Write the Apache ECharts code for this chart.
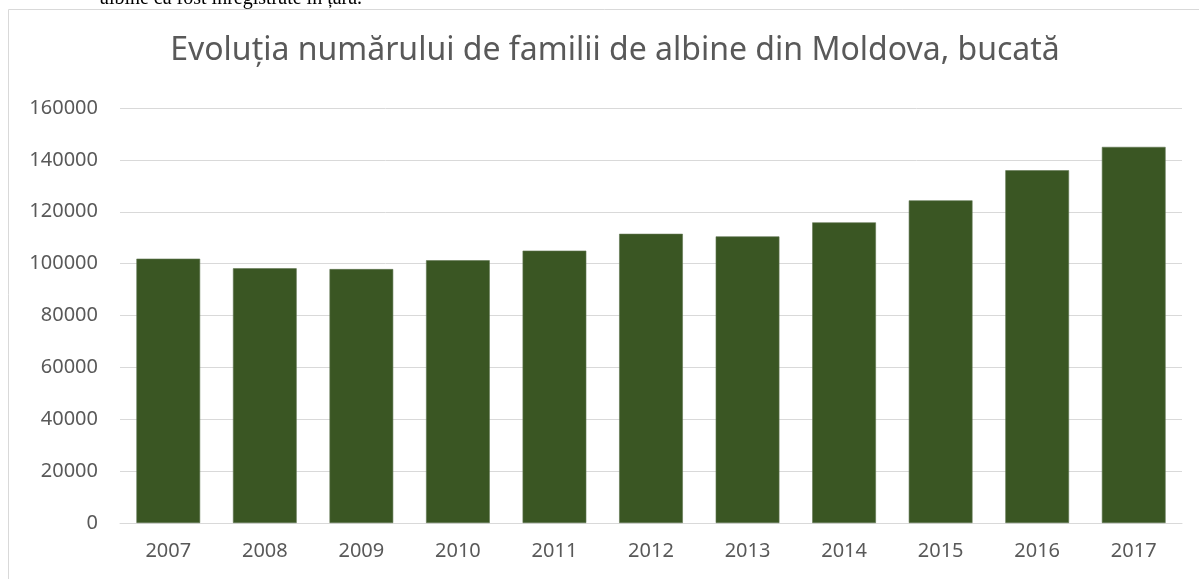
<!DOCTYPE html>
<html>
<head>
<meta charset="utf-8">
<script src="https://cdn.jsdelivr.net/npm/echarts@6/dist/echarts.min.js"></script>
<style>
  html, body { margin: 0; padding: 0; background: #fff; }
  #chart { width: 1199px; height: 579px; }
</style>
</head>
<body>
<div id="chart"></div>
<script>
// date
const years = ['2007', '2008', '2009', '2010', '2011', '2012', '2013', '2014', '2015', '2016', '2017']
const colonies = [101900, 98200, 97900, 101300, 105000, 111500, 110500, 115900, 124400, 136000, 145000]
const yTicks = [0, 20000, 40000, 60000, 80000, 100000, 120000, 140000, 160000]

const chart = echarts.init(document.getElementById('chart'))

const grey = '#595959'

chart.setOption({
  animation: false,
  title: {
    text: 'Evoluția numărului de familii de albine din Moldova, bucată',
    left: 610,
    textAlign: 'center',
    top: 30,
    textStyle: {
      fontFamily: 'Noto Sans',
      fontSize: 32,
      fontWeight: 'normal',
      color: grey,
    },
  },
  graphic: [
    {
      type: 'rect',
      shape: { x: 8.5, y: 9.5, width: 1300, height: 700 },
      style: { fill: 'none', stroke: '#d9d9d9', lineWidth: 1 },
      silent: true,
    },
    {
      type: 'text',
      x: 100,
      y: 9,
      style: {
        text: 'albine ca fost înregistrate în țară.',
        fontFamily: 'Liberation Serif',
        fontSize: 20,
        fill: '#000',
        verticalAlign: 'bottom',
      },
      silent: true,
    },
  ],
  grid: {
    left: 120,
    right: 17,
    top: 108,
    bottom: 56,
  },
  xAxis: {
    type: 'category',
    data: years,
    axisLine: { lineStyle: { color: '#d9d9d9', width: 1 } },
    axisTick: { show: false },
    axisLabel: {
      color: grey,
      fontFamily: 'Noto Sans',
      fontSize: 20,
      margin: 18,
    },
  },
  yAxis: {
    type: 'value',
    min: yTicks[0],
    max: yTicks[yTicks.length - 1],
    interval: yTicks[1] - yTicks[0],
    axisLine: { show: false },
    axisTick: { show: false },
    splitLine: { lineStyle: { color: '#d9d9d9', width: 1 } },
    axisLabel: {
      color: grey,
      fontFamily: 'Noto Sans',
      fontSize: 20,
      margin: 22,
      formatter: (v) => String(v),
    },
  },
  series: [
    {
      type: 'bar',
      data: colonies,
      barWidth: '66%',
      itemStyle: {
        color: '#3a5623',
        borderColor: '#5f7550',
        borderWidth: 0.6,
      },
    },
  ],
})
</script>
</body>
</html>
